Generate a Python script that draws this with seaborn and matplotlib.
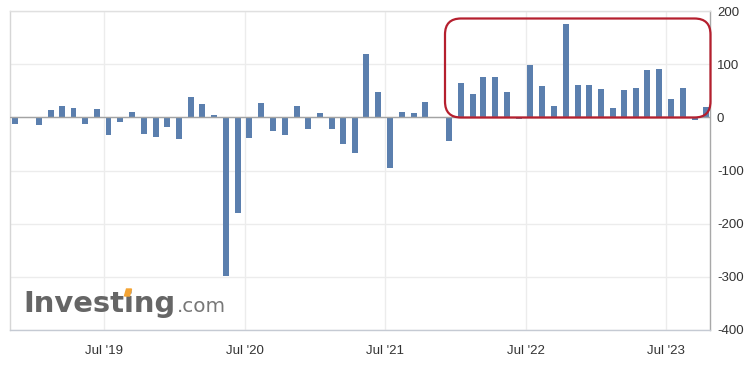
import numpy as np
import pandas as pd
import matplotlib
matplotlib.use("Agg")
import matplotlib.pyplot as plt
import matplotlib.dates as mdates
from matplotlib.patches import FancyBboxPatch, Polygon
from matplotlib.transforms import IdentityTransform
import seaborn as sns

# ---- data ----
months = pd.date_range("2018-11-01", periods=60, freq="MS")
values = [-13, -2, -15, 13, 22, 18, -13, 15, -34, -8,
          10, -32, -37, -18, -41, 39, 25, 4, -298, -180,
          -39, 27, -25, -34, 22, -22, 8, -22, -51, -68,
          120, 48, -96, 10, 8, 29, 1, -44, 65, 44,
          75, 75, 48, -3, 99, 58, 22, 175, 60, 60,
          53, 17, 51, 55, 89, 91, 34, 55, -5, 20]
y_ticks = [200, 100, 0, -100, -200, -300, -400]
logo_main = "Investing"
logo_suffix = ".com"

# ---- style ----
W, H = 753, 375
sns.set_theme(style="white")
plt.rcParams['font.family'] = ['Liberation Sans', 'DejaVu Sans']
plt.rcParams['axes.unicode_minus'] = False

fig = plt.figure(figsize=(W / 100, H / 100), dpi=100)
fig.patch.set_facecolor("white")
ax = fig.add_axes([10 / W, 45 / H, 700 / W, 319 / H])

xnum = mdates.date2num((months + pd.Timedelta(days=12)).to_pydatetime())
df = pd.DataFrame({"x": xnum, "value": values})
sns.barplot(data=df, x="x", y="value", native_scale=True, orient="x",
            color="#5b7fae", saturation=1, width=0.55, errorbar=None,
            linewidth=0, edgecolor="none", ax=ax, zorder=2)

ax.set_xlim(mdates.date2num(pd.Timestamp("2018-10-30").to_pydatetime()),
            mdates.date2num(pd.Timestamp("2023-10-23").to_pydatetime()))
ax.xaxis.set_major_locator(mdates.MonthLocator(bymonth=7))
ax.xaxis.set_major_formatter(mdates.DateFormatter("%b '%y"))
ax.set_ylim(-400, 200)
ax.set_yticks(y_ticks)
ax.yaxis.tick_right()
ax.set_xlabel("")
ax.set_ylabel("")

ax.grid(True, color="#ececec", lw=1)
ax.set_axisbelow(True)
ax.tick_params(axis="both", length=0, labelsize=9.5, colors="#333333")
ax.tick_params(axis="x", pad=11)
ax.tick_params(axis="y", pad=5)
for lab in ax.get_yticklabels():
    lab.set_horizontalalignment("left")

ax.spines["left"].set_color("#d6d6d6")
ax.spines["top"].set_color("#e0e0e0")
ax.spines["right"].set_color("#a8a8a8")
ax.spines["bottom"].set_color("#c5cad3")
for s in ax.spines.values():
    s.set_linewidth(1)
    s.set_visible(True)

ax.axhline(0, color="#a3a3a3", lw=1, zorder=3)

# highlight box (pixel coordinates)
box = FancyBboxPatch((445, H - 117.5), 265.5, 99,
                     boxstyle="round,pad=0,rounding_size=16",
                     transform=IdentityTransform(), fill=False,
                     ec="#b51f2e", lw=1.6, clip_on=False, zorder=5)
fig.add_artist(box)

# watermark logo
fig.text(23 / W, 1 - 311.7 / H, logo_main, fontsize=20.9, fontweight="bold",
         family="DejaVu Sans", color="#666666", va="baseline", ha="left")
fig.text(177 / W, 1 - 311.7 / H, logo_suffix, fontsize=14.4,
         family="DejaVu Sans", color="#777777", va="baseline", ha="left")
dot = Polygon([(124.5, H - 296), (129.5, H - 296), (131.5, H - 289), (126.5, H - 289)],
              closed=True, transform=IdentityTransform(), color="#f4a434", zorder=6)
fig.add_artist(dot)

fig.savefig("out.png", dpi=100)
